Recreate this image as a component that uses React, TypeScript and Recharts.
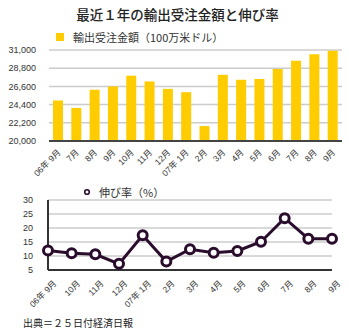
import React from "react";
import { BarChart, Bar, LineChart, Line, XAxis, YAxis, CartesianGrid, Legend } from "recharts";

const barMonths = ["06年 9月", "7月", "8月", "9月", "10月", "11月", "12月", "07年 1月", "2月", "3月", "4月", "5月", "6月", "7月", "8月", "9月"];
const orderValues = [24900, 24000, 26200, 26600, 27900, 27200, 26300, 25900, 21800, 28000, 27400, 27500, 28700, 29700, 30500, 30900];
const orderTicks = [20000, 22200, 24400, 26600, 28800, 31000];

const lineMonths = ["06年 9月", "10月", "11月", "12月", "07年 1月", "2月", "3月", "4月", "5月", "6月", "7月", "8月", "9月"];
const growthValues = [12, 11, 10.6, 7.2, 17.4, 8.0, 12.4, 11.2, 11.8, 15.1, 23.5, 16.2, 16.2];
const growthTicks = [5, 10, 15, 20, 25, 30];

const title = "最近１年の輸出受注金額と伸び率";
const barLegend = "輸出受注金額（100万米ドル）";
const lineLegend = "伸び率（%）";
const source = "出典＝２５日付経済日報";

const barData = barMonths.map((m, i) => ({ month: m, value: orderValues[i] }));
const lineData = lineMonths.map((m, i) => ({ month: m, value: growthValues[i] }));

const FONT = "'Liberation Sans', 'Noto Sans CJK JP', sans-serif";
const JFONT = "'Noto Sans CJK JP', sans-serif";
const YELLOW = "#FFCC00";
const PURPLE = "#2a0d2c";

const makeTick = (dx: number, dy: number) => (props: any) => {
  const { x, y, payload } = props;
  return (
    <g transform={`translate(${x + dx},${y + dy})`}>
      <text x={0} y={0} transform="rotate(-45)" textAnchor="end" fontSize={8.5} fill="#333" fontFamily={FONT}>
        {payload.value}
      </text>
    </g>
  );
};

const BarLegend = () => (
  <div style={{ display: "flex", alignItems: "center", background: "#fff", padding: "0 4px", height: 14 }}>
    <span style={{ width: 8, height: 8, background: YELLOW, display: "inline-block", marginRight: 9 }} />
    <span style={{ fontSize: 11, color: "#333", fontFamily: JFONT, lineHeight: "14px" }}>{barLegend}</span>
  </div>
);

const LineLegend = () => (
  <div style={{ display: "flex", alignItems: "center", height: 14 }}>
    <svg width={8} height={8} style={{ marginRight: 8 }}>
      <circle cx={4} cy={4} r={2.3} fill="#fff" stroke={PURPLE} strokeWidth={1.6} />
    </svg>
    <span style={{ fontSize: 11, color: "#333", fontFamily: JFONT, lineHeight: "14px" }}>{lineLegend}</span>
  </div>
);

export default function App() {
  return (
    <div style={{ position: "absolute", left: 0, top: 0, width: 349, height: 334, background: "#fff", overflow: "hidden" }}>
      <div style={{ position: "absolute", left: 0, top: 5, width: 355, textAlign: "center", fontSize: 13.5, fontWeight: 500, color: "#222", fontFamily: JFONT, lineHeight: "18px" }}>
        {title}
      </div>
      <div style={{ position: "absolute", left: 0, top: 0 }}>
        <BarChart width={349} height={180} data={barData} margin={{ top: 36, right: 7, left: 0, bottom: 0 }} barSize={10}>
          <CartesianGrid vertical={false} stroke="#cccccc" strokeWidth={1.5} />
          <XAxis dataKey="month" interval={0} height={39} tickLine={false} axisLine={{ stroke: "#444", strokeWidth: 2 }} tick={makeTick(3, 4)} />
          <YAxis width={49} domain={[20000, 31000]} ticks={orderTicks} interval={0} tickLine={false} axisLine={false} tickMargin={7}
            tick={{ fontSize: 9, fill: "#333", fontFamily: FONT }} tickFormatter={(v: number) => v.toLocaleString("en-US")} />
          <Legend verticalAlign="top" align="left" content={() => <BarLegend />} wrapperStyle={{ top: 30, left: 52, width: "auto" }} />
          <Bar dataKey="value" fill={YELLOW} isAnimationActive={false} />
        </BarChart>
      </div>
      <div style={{ position: "absolute", left: 0, top: 180 }}>
        <LineChart width={349} height={140} data={lineData} margin={{ top: 6, right: 17, left: 0, bottom: 0 }}>
          <CartesianGrid vertical={false} stroke="#cccccc" strokeWidth={1.5} />
          <XAxis dataKey="month" interval={0} height={50} tickLine={false} axisLine={{ stroke: "#333", strokeWidth: 2 }} tick={makeTick(9, 6)} />
          <YAxis width={48} domain={[5, 30]} ticks={growthTicks} interval={0} tickLine={false} axisLine={{ stroke: "#333", strokeWidth: 2 }} tickMargin={9}
            tick={{ fontSize: 9, fill: "#333", fontFamily: FONT }} />
          <Legend verticalAlign="top" align="left" content={() => <LineLegend />} wrapperStyle={{ top: 5, left: 83, width: "auto" }} />
          <Line dataKey="value" stroke={PURPLE} strokeWidth={3} isAnimationActive={false}
            dot={{ r: 4.5, fill: "#fff", stroke: PURPLE, strokeWidth: 3 }} activeDot={false} />
        </LineChart>
      </div>
      <div style={{ position: "absolute", left: 23, top: 316, fontSize: 10, color: "#222", fontFamily: JFONT, lineHeight: "14px" }}>
        {source}
      </div>
    </div>
  );
}
